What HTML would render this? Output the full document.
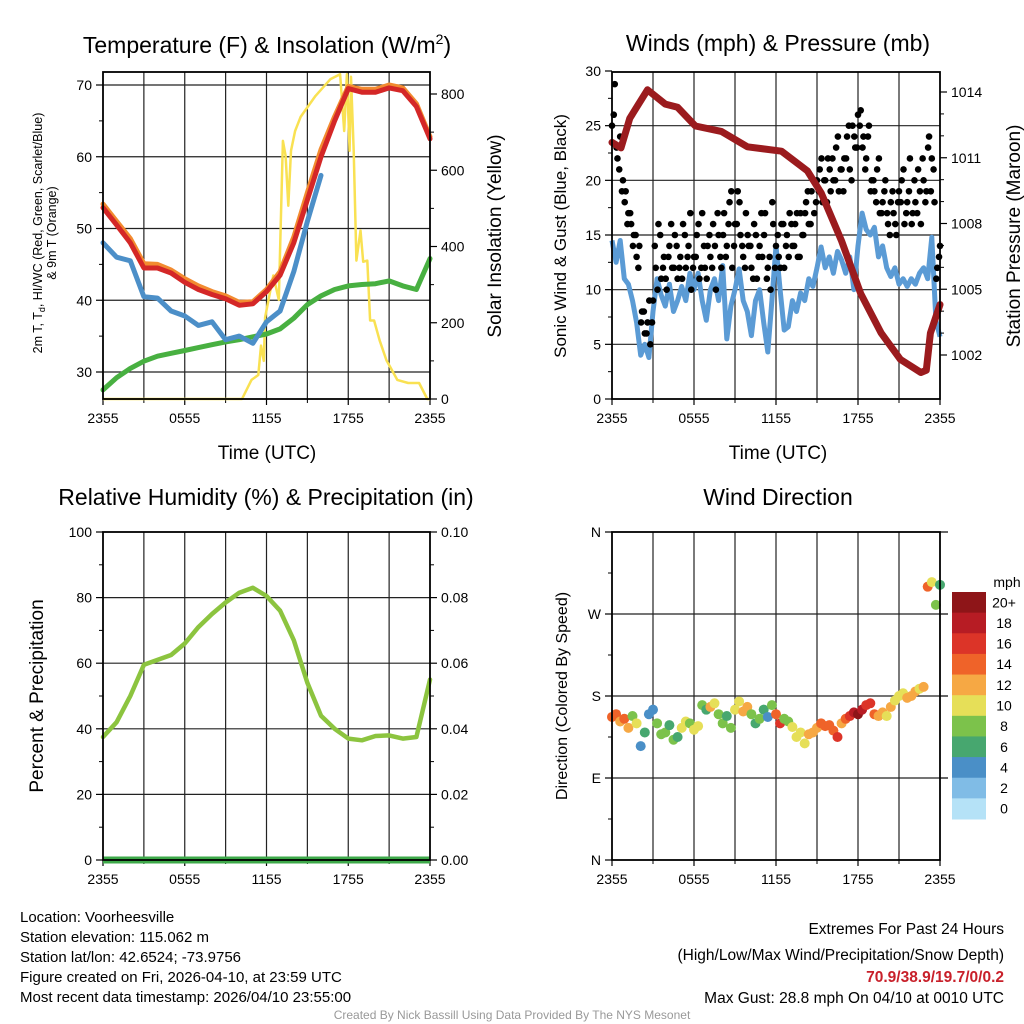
<!DOCTYPE html>
<html><head><meta charset="utf-8">
<style>
body{margin:0;background:#fff;}
svg{display:block;font-family:"Liberation Sans",Arial,sans-serif;}
</style></head>
<body>
<svg id="chart" width="1024" height="1024" viewBox="0 0 1024 1024">
<g id="g1"></g>
<g id="g2"></g>
<g id="g3"></g>
<g id="g4"></g>
<text x="267" y="53" font-size="23" text-anchor="middle">Temperature (F) &amp; Insolation (W/m<tspan dy="-9" font-size="14">2</tspan><tspan dy="9">)</tspan></text>
<text x="778" y="51" font-size="23" text-anchor="middle">Winds (mph) &amp; Pressure (mb)</text>
<text x="266" y="505" font-size="23" text-anchor="middle">Relative Humidity (%) &amp; Precipitation (in)</text>
<text x="778" y="505" font-size="23" text-anchor="middle">Wind Direction</text>
<text x="267" y="459" font-size="19" text-anchor="middle">Time (UTC)</text>
<text x="778" y="459" font-size="19" text-anchor="middle">Time (UTC)</text>
<text transform="translate(42,233) rotate(-90)" font-size="12.5" text-anchor="middle">2m T, T<tspan font-size="9" dy="3">d</tspan><tspan dy="-3">, HI/WC (Red, Green, Scarlet/Blue)</tspan></text>
<text transform="translate(56,233) rotate(-90)" font-size="12.5" text-anchor="middle">&amp; 9m T (Orange)</text>
<text transform="translate(501,236) rotate(-90)" font-size="19" text-anchor="middle">Solar Insolation (Yellow)</text>
<text transform="translate(566,236) rotate(-90)" font-size="17" text-anchor="middle">Sonic Wind &amp; Gust (Blue, Black)</text>
<text transform="translate(1020,236) rotate(-90)" font-size="19" text-anchor="middle">Station Pressure (Maroon)</text>
<text transform="translate(43,696) rotate(-90)" font-size="19" text-anchor="middle">Percent &amp; Precipitation</text>
<text transform="translate(567,696) rotate(-90)" font-size="16" text-anchor="middle">Direction (Colored By Speed)</text>
<g font-size="15">
<text x="20" y="922">Location: Voorheesville</text>
<text x="20" y="942">Station elevation: 115.062 m</text>
<text x="20" y="962">Station lat/lon: 42.6524; -73.9756</text>
<text x="20" y="982">Figure created on Fri, 2026-04-10, at 23:59 UTC</text>
<text x="20" y="1002">Most recent data timestamp: 2026/04/10 23:55:00</text>
</g>
<g font-size="15.5" text-anchor="end">
<text x="1004" y="934">Extremes For Past 24 Hours</text>
<text x="1004" y="960">(High/Low/Max Wind/Precipitation/Snow Depth)</text>
<text x="1004" y="982" fill="#c8202a" font-weight="bold">70.9/38.9/19.7/0/0.2</text>
<text x="1004" y="1003">Max Gust: 28.8 mph On 04/10 at 0010 UTC</text>
</g>
<text x="512" y="1019" font-size="12" fill="#999" text-anchor="middle">Created By Nick Bassill Using Data Provided By The NYS Mesonet</text>
</svg>
<script>
const NS="http://www.w3.org/2000/svg";
const xTickLabels=["2355","0555","1155","1755","2355"];
// Panel 1
const tempRed=[52.9,50.5,48,44.5,44.5,43.8,42.5,41.5,40.8,40.2,39.3,39.5,41.2,43.5,48,54,60,65,69.5,69,69,69.6,69.2,67,62.5];
const tempOrange=[53.4,51,48.6,45.1,45,44.2,43,42,41.2,40.6,39.7,39.8,41.5,44,48.8,55,61,65.6,69.8,69.4,69.4,70,69.6,67.4,62.8];
const tempBlue=[48,46,45.5,40.5,40.3,38.5,37.8,36.5,37,34.5,35,34,37,38.5,44,51,57.4];
const tempGreen=[27.5,29.2,30.5,31.5,32.2,32.6,33,33.4,33.8,34.2,34.5,34.9,35.3,36,37.5,39.4,40.6,41.5,42,42.2,42.3,42.7,42,41.5,45.8];
const solarHours=[0,10.2,10.9,11.4,11.6,11.8,11.9,12.5,12.9,13.2,13.4,13.6,13.8,14.1,14.5,15.6,16.7,17.4,17.7,17.9,18.1,18.2,18.4,18.6,18.9,19.1,19.4,19.6,19.9,20.3,20.8,21.6,22.4,23.2,23.8,24];
const solarVals=[0,0,50,63,140,100,214,324,260,677,638,507,651,703,740,795,839,852,703,852,651,845,651,363,442,360,363,206,206,154,102,50,42,42,0,0];
// Panel 2
const windBlue=[14.5,12.5,14.5,11,10.5,9,7,4,5,3.8,8,11,9.5,8.5,10.5,8,9,10.3,9,11.5,10,11.5,9,7.2,10,11,9,12.2,5.5,8.5,10,11.9,9,8,5.8,9,10,7,4.3,9,14,10,6.3,6.6,9,8,9.7,9,11,10.3,12,13.9,12,13,11.5,13.5,12.7,11.5,13,10,14,17,15.5,15,15.7,13,14,12,11.2,12,10.5,11,10.3,11,10.5,11.5,12,11,14.8,7.2,5.7];
const gustA=[25,28.8,22,24,20,19,17,16,15,13,14,8,6,7,5,9,12,16,11,13,10,14,12,15,11,13,16,12,14,10,13,15,11,17,12,14,13,16,10,15,12,17,14,18,12,16,19,15,13,17,14,12,16,11,14,13,17,12,10,16,14,13,16,12,15,17,14,16,13,17,15,18,16,19,17,20,21,18,20,22,19,20,23,19,21,22,24,21,25,23,26,26.4,24,22,25,20,19,21,17,18,20,16,18,17,15,19,20,16,18,22,17,18,21,16,20,19,24,22,18,12,14];
const gustB=[26,23,21,19,18,16,17,14,15,12,7,8,6,9,7,14,10,15,12,11,13,16,12,14,12,11,15,13,17,12,13,16,12,14,11,15,12,14,17,13,15,13,16,19,14,16,18,14,12,15,14,11,15,13,17,15,11,13,18,12,15,12,16,14,13,16,14,17,13,15,17,19,16,20,18,19,22,20,18,21,22,20,24,21,19,22,25,20,24,23,25,23,21,24,19,20,18,22,17,19,17,15,19,16,18,18,21,17,19,16,20,17,19,22,18,23,19,21,11,13];
const presHours=[0,0.66,1.3,2.6,3.9,4.8,6.1,8,9.9,12.4,14.3,15.3,16.8,18.2,19.7,21.1,22.6,23,23.3,24];
const presVals=[1011.7,1011.45,1012.8,1014.1,1013.45,1013.3,1012.45,1012.2,1011.5,1011.3,1010.4,1009.4,1007.2,1004.8,1003,1001.8,1001.2,1001.3,1003,1004.3];
// Panel 3
const rhVals=[37.5,42,50,59.5,61,62.5,66,71,75,78.5,81.5,83,80.5,76,67,54,44,40,37,36.5,37.8,38,37,37.5,55];
const precipVals=[0,0,0,0,0,0,0,0,0,0,0,0,0,0,0,0,0,0,0,0,0,0,0,0,0];
// Panel 4
const dirVals=[157,160,152,155,145,158,150,125,140,160,165,150,138,140,148,132,135,145,152,150,143,147,170,165,168,172,160,150,158,145,165,174,163,168,160,150,155,165,157,170,160,150,155,152,146,135,140,128,138,140,145,150,147,148,142,135,150,155,158,162,160,165,170,172,160,158,162,158,168,175,180,183,178,180,185,188,190,300,305,280,302];
const spdVals=[14,15,13,14,12,8,10,4,6,4,4,8,8,8,7,8,6,10,10,8,10,10,8,6,12,10,8,8,6,8,10,10,12,12,8,6,8,6,4,8,14,16,8,8,10,10,10,10,12,12,12,14,14,14,14,16,12,14,16,18,20,18,16,16,14,12,12,10,12,10,10,10,12,12,12,10,12,14,10,8,6];
const cbColors=["#b5e2f7","#80bce6","#4a8fc7","#47a76f","#7cc24b","#e6df58","#f6a844","#ef6329","#dc3428","#b71c24","#8e1518"];
const cbLabels=["0","2","4","6","8","10","12","14","16","18","20+"];

function el(parent,tag,attrs){const e=document.createElementNS(NS,tag);for(const k in attrs)e.setAttribute(k,attrs[k]);parent.appendChild(e);return e;}
function linX(x0,x1){return h=>x0+(x1-x0)*h/24;}
function linY(v0,v1,y0,y1){return v=>y0+(y1-y0)*(v-v0)/(v1-v0);}

function frame(g,x0,x1,y0,y1,hGrid){
  const X=linX(x0,x1);
  for(let h=3;h<24;h+=3){const l=el(g,'line',{x1:X(h),x2:X(h),y1:y0,y2:y1,stroke:'#222','stroke-width':1.2});
    }
  hGrid.forEach(y=>{const l=el(g,'line',{x1:x0,x2:x1,y1:y,y2:y,stroke:'#222','stroke-width':1.2});
    });
  xTickLabels.forEach((t,i)=>{const x=X(i*6);
    const tk=el(g,'line',{x1:x,x2:x,y1:y1,y2:y1+6,stroke:'#000','stroke-width':1.2});
    
    const tx=el(g,'text',{x:x,y:y1+24,'font-size':14,'text-anchor':'middle'});tx.textContent=t;
    });
  for(let h=3;h<24;h+=6){const l=el(g,'line',{x1:X(h),x2:X(h),y1:y1,y2:y1+4,stroke:'#000'});
    }
}
function border(g,x0,x1,y0,y1){const r=el(g,'rect',{x:x0,y:y0,width:x1-x0,height:y1-y0,fill:'none',stroke:'#000','stroke-width':1.8});
  }
function yTicks(g,vals,labels,Y,x,side,minor){
  vals.forEach((v,i)=>{const y=Y(v);
    const tk=el(g,'line',{x1:x,x2:x+(side<0?-7:7),y1:y,y2:y,stroke:'#000','stroke-width':1.2});
    
    const tx=el(g,'text',{x:x+(side<0?-11:11),y:y+5,'font-size':14,'text-anchor':side<0?'end':'start'});tx.textContent=labels[i];
    });
  (minor||[]).forEach(v=>{const y=Y(v);const tk=el(g,'line',{x1:x,x2:x+(side<0?-4:4),y1:y,y2:y,stroke:'#000'});
    });
}
function pathHourly(vals,X,Y,step){return vals.map((v,i)=>(i?'L':'M')+X(i*step).toFixed(1)+','+Y(v).toFixed(1)).join('');}
function pathXY(hs,vs,X,Y){return hs.map((h,i)=>(i?'L':'M')+X(h).toFixed(1)+','+Y(vs[i]).toFixed(1)).join('');}

// ---- Panel 1
(function(){
  const g=document.getElementById('g1');const x0=103,x1=430,y0=72,y1=399;
  const X=linX(x0,x1);const Y=linY(30,70,372,85);const S=linY(0,800,399,94);
  frame(g,x0,x1,y0,y1,[70,60,50,40,30].map(Y));
  const sp=el(g,'path',{d:pathXY(solarHours,solarVals,X,S),fill:'none',stroke:'#f9e152','stroke-width':2.5,'stroke-linejoin':'round'});
  
  const series=[[tempGreen,'#48b041','dewpoint-line'],[tempBlue,'#4c8fc8','heat-index-windchill-line'],[tempOrange,'#f28b30','9m-temperature-line'],[tempRed,'#d42727','2m-temperature-line']];
  series.forEach(([v,c,n])=>{const p=el(g,'path',{d:pathHourly(v,X,Y,1),fill:'none',stroke:c,'stroke-width':5,'stroke-linejoin':'round','stroke-linecap':'round'});
    });
  border(g,x0,x1,y0,y1);
  yTicks(g,[30,40,50,60,70],['30','40','50','60','70'],Y,x0,-1,[35,45,55,65]);
  yTicks(g,[0,200,400,600,800],['0','200','400','600','800'],S,x1,1,[100,300,500,700]);
})();

// ---- Panel 2
(function(){
  const g=document.getElementById('g2');const x0=612,x1=940,y0=72,y1=399;
  const X=linX(x0,x1);const Y=linY(0,30,399,71);const P=linY(1002,1014,355,92);
  frame(g,x0,x1,y0,y1,[5,10,15,20,25].map(Y));
  const bp=el(g,'path',{d:pathHourly(windBlue,X,Y,0.3),fill:'none',stroke:'#5b9bd5','stroke-width':5,'stroke-linejoin':'round'});
  
  gustA.forEach((v,i)=>{const c=el(g,'circle',{cx:X(i*0.2),cy:Y(v),r:3.3,fill:'#000'});
    });
  gustB.forEach((v,i)=>{const c=el(g,'circle',{cx:X(i*0.2+0.13),cy:Y(v),r:3.3,fill:'#000'});
    });
  const pp=el(g,'path',{d:pathXY(presHours,presVals,X,P),fill:'none',stroke:'#9b1b1e','stroke-width':7,'stroke-linejoin':'round','stroke-linecap':'round'});
  
  border(g,x0,x1,y0,y1);
  yTicks(g,[0,5,10,15,20,25,30],['0','5','10','15','20','25','30'],Y,x0,-1,[2.5,7.5,12.5,17.5,22.5,27.5]);
  yTicks(g,[1002,1005,1008,1011,1014],['1002','1005','1008','1011','1014'],P,x1,1,[1003,1004,1006,1007,1009,1010,1012,1013]);
})();

// ---- Panel 3
(function(){
  const g=document.getElementById('g3');const x0=103,x1=430,y0=532,y1=860;
  const X=linX(x0,x1);const Y=linY(0,100,860,532);const R=linY(0,0.1,860,532);
  frame(g,x0,x1,y0,y1,[20,40,60,80].map(Y));
  const pr=el(g,'path',{d:pathHourly(precipVals,X,R,1),fill:'none',stroke:'#3ea94a','stroke-width':7});
  
  const rh=el(g,'path',{d:pathHourly(rhVals,X,Y,1),fill:'none',stroke:'#8cc43f','stroke-width':4.5,'stroke-linejoin':'round','stroke-linecap':'round'});
  
  border(g,x0,x1,y0,y1);
  yTicks(g,[0,20,40,60,80,100],['0','20','40','60','80','100'],Y,x0,-1,[10,30,50,70,90]);
  yTicks(g,[0,0.02,0.04,0.06,0.08,0.1],['0.00','0.02','0.04','0.06','0.08','0.10'],R,x1,1,[0.01,0.03,0.05,0.07,0.09]);
})();

// ---- Panel 4
(function(){
  const g=document.getElementById('g4');const x0=612,x1=940,y0=532,y1=860;
  const X=linX(x0,x1);const Y=linY(0,360,860,532);
  frame(g,x0,x1,y0,y1,[90,180,270].map(Y));
  const bin=s=>Math.min(10,Math.max(0,Math.floor(s/2)));
  dirVals.forEach((d,i)=>{const c=el(g,'circle',{cx:X(i*0.3),cy:Y(d),r:5,fill:cbColors[bin(spdVals[i])]});
    });
  border(g,x0,x1,y0,y1);
  yTicks(g,[0,90,180,270,360],['N','E','S','W','N'],Y,x0,-1,[45,135,225,315]);
  [90,180,270,360].forEach(v=>{const l=el(g,'line',{x1:x1,x2:x1+8,y1:Y(v),y2:Y(v),stroke:'#000','stroke-width':1.2});
    });
  const cb=el(g,'g',{});
  const top=592,bh=(819-592)/11;
  for(let i=0;i<11;i++){const k=10-i;
    const r=el(cb,'rect',{x:952,y:top+i*bh,width:34,height:bh+0.5,fill:cbColors[k]});
    
    const t=el(cb,'text',{x:1004,y:top+i*bh+bh/2+5,'font-size':14,'text-anchor':'middle'});t.textContent=cbLabels[k];
    }
  const u=el(cb,'text',{x:1007,y:587,'font-size':14,'text-anchor':'middle'});u.textContent='mph';
  
})();
</script>
</body></html>
